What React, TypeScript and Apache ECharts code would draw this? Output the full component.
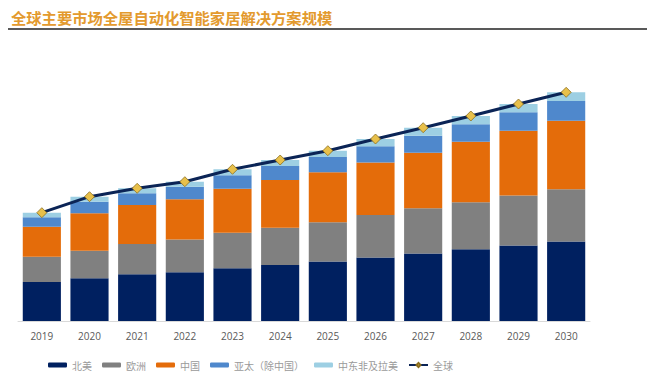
import React, { useEffect, useRef } from "react";
import * as echarts from "echarts";

const years = ["2019", "2020", "2021", "2022", "2023", "2024", "2025", "2026", "2027", "2028", "2029", "2030"];
const northAmerica = [39, 42.7, 46.7, 48.7, 52.7, 56, 59.5, 63.5, 67.5, 71.7, 75.5, 79.5];
const europe = [25.3, 27.6, 30.3, 32.8, 35.6, 37.3, 39.2, 42.5, 45.2, 47, 50, 52.2];
const china = [30, 37.4, 39, 40.2, 44, 47.7, 50, 52.5, 55.6, 60.6, 64.8, 68.6];
const apacExChina = [9.4, 11.6, 11.7, 12.6, 13.4, 14, 15.3, 16.2, 17, 17.4, 18.4, 19.7];
const meaLatam = [4.6, 5, 5, 5, 6, 6, 6.3, 7.3, 8, 8.3, 8.3, 8.7];

const seriesNames = ["北美", "欧洲", "中国", "亚太（除中国）", "中东非及拉美", "全球"];
const colors = ["#002060", "#808080", "#E46C0A", "#4F88CC", "#9DCFE3"];

export default function App() {
  const ref = useRef<HTMLDivElement>(null);
  useEffect(() => {
    if (!ref.current) return;
    const chart = echarts.init(ref.current, undefined, { renderer: "svg" });
    const stacks = [northAmerica, europe, china, apacExChina, meaLatam];
    const totals = years.map((_, i) => +stacks.reduce((s, a) => s + a[i], 0).toFixed(1));
    const labelFont = '"Noto Sans CJK SC", "Noto Sans", sans-serif';
    chart.setOption({
      animation: false,
      backgroundColor: "#ffffff",
      title: {
        text: "全球主要市场全屋自动化智能家居解决方案规模",
        left: 6,
        top: 4,
        textStyle: {
          color: "#E39A2E",
          fontSize: 15.3,
          fontWeight: "bold",
          fontFamily: '"Noto Sans CJK SC", sans-serif',
        },
      },
      graphic: [
        {
          type: "line",
          shape: { x1: 8, y1: 29, x2: 647, y2: 29 },
          style: { stroke: "#222222", lineWidth: 1.5 },
        },
      ],
      grid: { left: 18, right: 57, top: 71, bottom: 55, containLabel: false },
      legend: {
        left: 43,
        top: 355,
        itemWidth: 19,
        itemHeight: 5,
        itemGap: 10,
        textStyle: { color: "#9a9a9a", fontSize: 10, fontFamily: labelFont },
        data: seriesNames,
      },
      xAxis: {
        type: "category",
        data: years,
        axisLine: { lineStyle: { color: "#D9D9D9", width: 1 } },
        axisTick: { show: false },
        axisLabel: { color: "#595959", fontSize: 10, margin: 10, fontFamily: '"Open Sans", sans-serif' },
      },
      yAxis: {
        type: "value",
        min: 0,
        max: 250,
        show: false,
        splitLine: { show: false },
      },
      series: [
        ...stacks.map((d, i) => ({
          name: seriesNames[i],
          type: "bar",
          stack: "total",
          data: d,
          barWidth: "80%",
          itemStyle: { color: colors[i] },
        })),
        {
          name: seriesNames[5],
          type: "line",
          data: totals,
          symbol: "diamond",
          symbolSize: 10,
          lineStyle: { color: "#0B2456", width: 3 },
          itemStyle: { color: "#E8C04A", borderColor: "#8a6d1e", borderWidth: 0.8 },
          z: 5,
        },
      ],
    });
    return () => chart.dispose();
  }, []);
  return <div ref={ref} style={{ position: "fixed", left: 0, top: 0, width: 647, height: 376 }} />;
}
